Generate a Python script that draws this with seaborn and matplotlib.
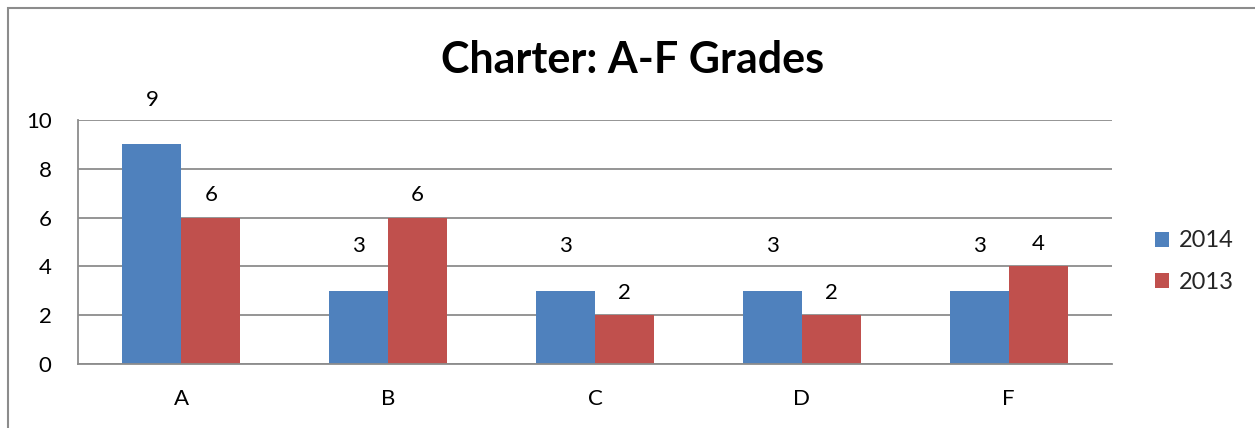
import pandas as pd
import matplotlib
matplotlib.use("Agg")
import matplotlib.pyplot as plt
import seaborn as sns
from matplotlib.patches import Rectangle

grades = ["A", "B", "C", "D", "F"]
vals_2014 = [9, 3, 3, 3, 3]
vals_2013 = [6, 6, 2, 2, 4]
years = ["2014", "2013"]
palette = {"2014": "#4F81BD", "2013": "#C0504D"}

df = pd.DataFrame({
    "Grade": grades * 2,
    "Year": ["2014"] * len(grades) + ["2013"] * len(grades),
    "Count": vals_2014 + vals_2013,
})

sns.set_style("white")
plt.rcParams["font.family"] = ["Lato", "DejaVu Sans"]

fig = plt.figure(figsize=(12.55, 4.28), dpi=100)
ax = fig.add_axes([78 / 1255, 1 - 364 / 428, (1112 - 78) / 1255, (364 - 120) / 428])

sns.barplot(data=df, x="Grade", y="Count", hue="Year", hue_order=years,
            palette=palette, width=0.57, gap=0, ax=ax, saturation=1,
            edgecolor="none", legend=True)

# blue labels sit higher than the red ones in the original
for cont, pad in zip(ax.containers, [25, 9]):
    ax.bar_label(cont, padding=pad, fontsize=16, color="black")

ax.set_ylim(0, 10)
ax.set_yticks(range(0, 11, 2))
ax.set_xlim(-0.5, 4.5)
ax.yaxis.grid(True, color="#8c8c8c", lw=1.3)
ax.set_axisbelow(True)
ax.set_xlabel(""); ax.set_ylabel("")
ax.tick_params(axis="both", length=0, labelsize=16, labelcolor="black")
ax.tick_params(axis="x", pad=18)
ax.tick_params(axis="y", pad=19)
for s in ["top", "right"]:
    ax.spines[s].set_visible(False)
for s in ["left", "bottom"]:
    ax.spines[s].set_color("#8c8c8c")
    ax.spines[s].set_linewidth(1.3)

leg = ax.legend(loc="center left", bbox_to_anchor=(1.0416, 0.42), frameon=False,
                fontsize=17, handlelength=0.6, handleheight=0.6,
                handletextpad=0.4, labelspacing=0.85, borderpad=0,
                borderaxespad=0)

fig.text(633 / 1255, 1 - 60 / 428, "Charter: A-F Grades", ha="center", va="center",
         fontsize=31, fontweight="bold", color="black")

fig.patches.append(Rectangle((8 / 1255, -0.1), 1.2, 1 - 8 / 428 + 0.1,
                             transform=fig.transFigure, fill=False,
                             edgecolor="#8c8c8c", lw=1.5))

fig.savefig("out.png", dpi=100)
